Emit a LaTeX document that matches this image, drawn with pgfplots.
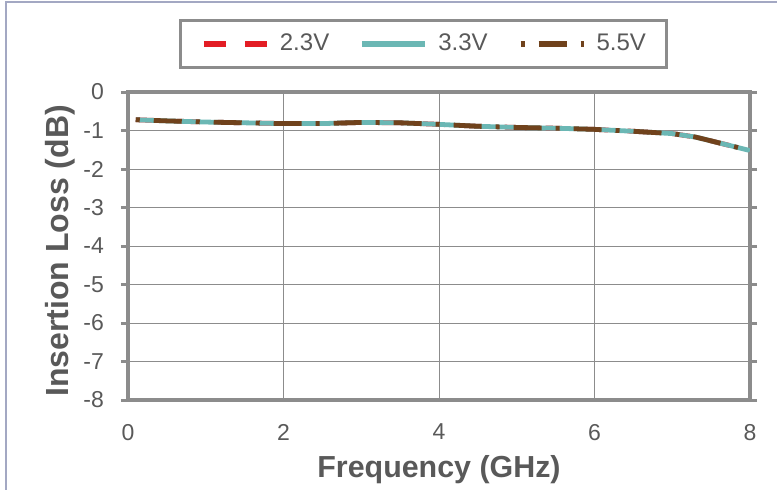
\documentclass[border=0pt]{standalone}
\usepackage{fontspec}
\setmainfont{Liberation Sans}
\usepackage{pgfplots}
\pgfplotsset{compat=1.18}
\definecolor{txtgrey}{HTML}{595959}
\definecolor{axgrey}{HTML}{8C8C8C}
\definecolor{gridgrey}{HTML}{8C8C8C}
\definecolor{framecol}{HTML}{A3A8C3}
\definecolor{cred}{HTML}{E31D24}
\definecolor{cteal}{HTML}{6BB7B4}
\definecolor{cbrown}{HTML}{70421C}

\begin{document}
\begin{tikzpicture}
\path[use as bounding box] (0pt,0pt) rectangle (388.5pt,244.5pt);
\draw[framecol, line width=1pt] (3pt,-5pt) -- (3pt,243.5pt) -- (400pt,243.5pt);
\begin{axis}[
    at={(64pt,44.5pt)}, anchor=south west,
    scale only axis,
    width=311pt, height=154pt,
    xmin=0, xmax=8, ymin=-8, ymax=0,
    xtick={0,2,4,6,8}, ytick={0,-1,...,-8},
    grid=major,
    major grid style={gridgrey, line width=0.5pt},
    axis line style={axgrey, line width=1.8pt},
    tick align=outside,
    x tick style={draw=none},
    y tick style={axgrey, line width=1.5pt},
    major tick length=3.5pt,
    /pgf/number format/assume math mode=true,
    tick label style={text=txtgrey, font=\fontsize{11.5}{13}\selectfont},
    yticklabel style={xshift=-5pt},
    xticklabel style={yshift=-5pt},
    xlabel={Frequency (GHz)},
    ylabel={Insertion Loss (dB)},
    xlabel style={font=\fontsize{15.2}{17}\selectfont\bfseries, text=txtgrey,
        at={(axis description cs:0.5,-0.225)}, anchor=center},
    ylabel style={font=\fontsize{16}{18}\selectfont\bfseries, text=txtgrey,
        at={(axis description cs:-0.109,0.484)}, anchor=center, rotate=0},
    legend columns=3,
    legend style={at={(axis description cs:0.475,1.156)}, anchor=center,
        draw=axgrey, line width=1.5pt, text=txtgrey,
        font=\fontsize{12}{14}\selectfont,
        inner xsep=10pt, inner ysep=5pt,
        nodes={inner xsep=0pt, inner ysep=2pt},
        /tikz/every odd column/.append style={column sep=5pt},
        /tikz/every even column/.append style={column sep=15pt}},
    legend image code/.code={\draw[#1, line width=3pt] (0pt,0pt) -- (31.5pt,0pt);},
]
\addplot[cred, line width=2.4pt, dash pattern=on 11pt off 9.5pt] coordinates {
    (0.1,-0.72) (0.5,-0.75) (1,-0.78) (1.5,-0.80) (2,-0.82) (2.5,-0.82)
    (3,-0.79) (3.5,-0.80) (4,-0.84) (4.5,-0.89) (5,-0.92) (5.5,-0.94)
    (6,-0.97) (6.5,-1.02) (7,-1.08) (7.3,-1.17) (7.6,-1.32) (8,-1.52)
};
\addlegendentry{2.3V}
\addplot[cteal, line width=2.4pt] coordinates {
    (0.1,-0.72) (0.5,-0.75) (1,-0.78) (1.5,-0.80) (2,-0.82) (2.5,-0.82)
    (3,-0.79) (3.5,-0.80) (4,-0.84) (4.5,-0.89) (5,-0.92) (5.5,-0.94)
    (6,-0.97) (6.5,-1.02) (7,-1.08) (7.3,-1.17) (7.6,-1.32) (8,-1.52)
};
\addlegendentry{3.3V}
\addplot[cbrown, line width=2.4pt, dash pattern=on 2pt off 7pt on 14pt off 7pt] coordinates {
    (0.1,-0.72) (0.5,-0.75) (1,-0.78) (1.5,-0.80) (2,-0.82) (2.5,-0.82)
    (3,-0.79) (3.5,-0.80) (4,-0.84) (4.5,-0.89) (5,-0.92) (5.5,-0.94)
    (6,-0.97) (6.5,-1.02) (7,-1.08) (7.3,-1.17) (7.6,-1.32) (8,-1.52)
};
\addlegendentry{5.5V}
\end{axis}
\end{tikzpicture}
\end{document}
